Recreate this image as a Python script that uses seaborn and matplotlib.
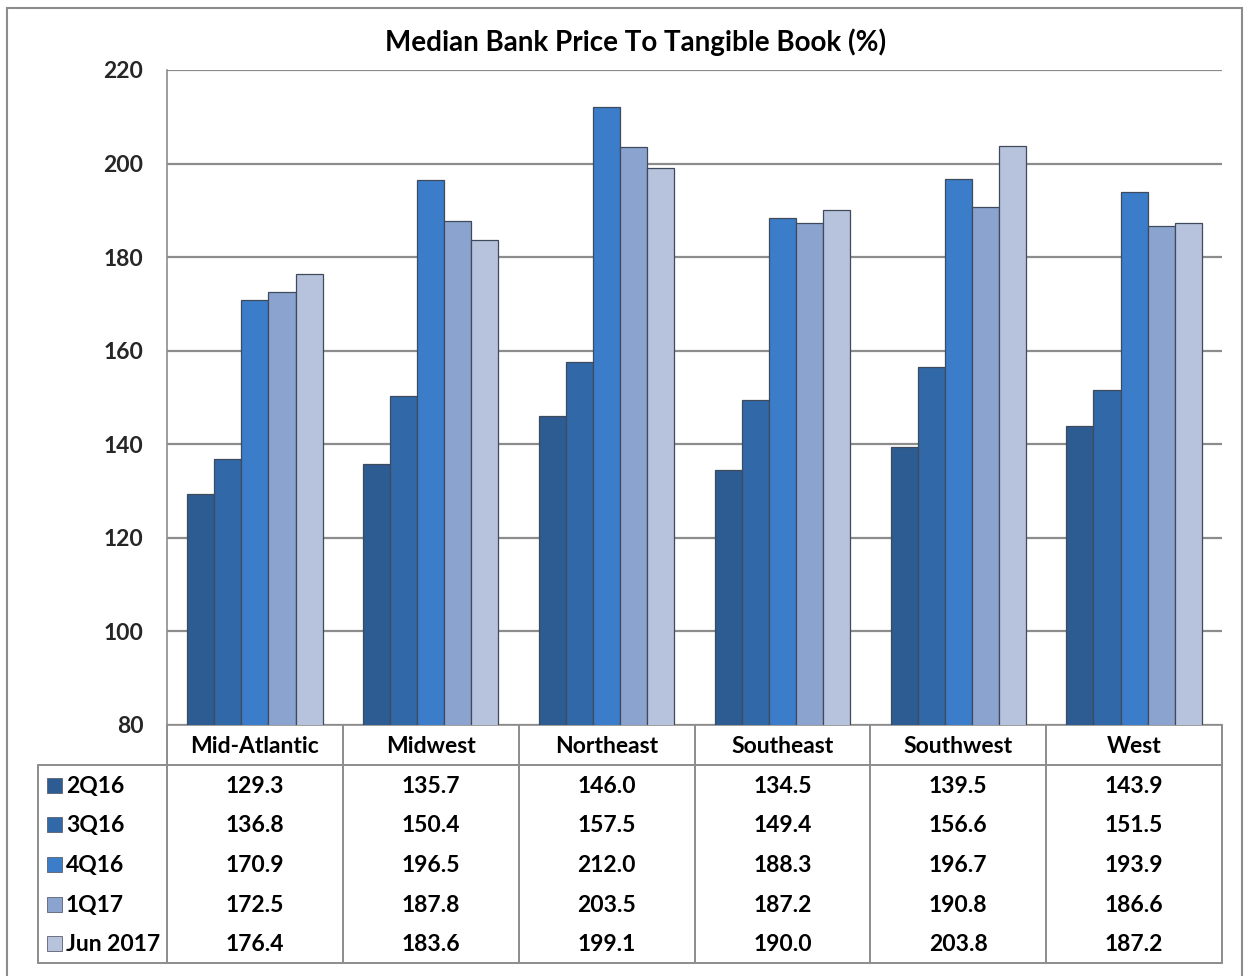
import matplotlib
matplotlib.use("Agg")
import matplotlib.pyplot as plt
import seaborn as sns
import pandas as pd
from matplotlib.lines import Line2D
from matplotlib.patches import Rectangle

regions = ["Mid-Atlantic", "Midwest", "Northeast", "Southeast", "Southwest", "West"]
series = ["2Q16", "3Q16", "4Q16", "1Q17", "Jun 2017"]
v_2q16 = [129.3, 135.7, 146.0, 134.5, 139.5, 143.9]
v_3q16 = [136.8, 150.4, 157.5, 149.4, 156.6, 151.5]
v_4q16 = [170.9, 196.5, 212.0, 188.3, 196.7, 193.9]
v_1q17 = [172.5, 187.8, 203.5, 187.2, 190.8, 186.6]
v_jun17 = [176.4, 183.6, 199.1, 190.0, 203.8, 187.2]
values = [v_2q16, v_3q16, v_4q16, v_1q17, v_jun17]
colors = ["#2d5c92", "#3068a8", "#3b7dc8", "#8aa3cf", "#b7c3dc"]
title = "Median Bank Price To Tangible Book (%)"

rows = []
for s, vals in zip(series, values):
    for r, v in zip(regions, vals):
        rows.append({"Region": r, "Series": s, "Value": v})
df = pd.DataFrame(rows)

sns.set_theme(style="white")
FAM = "Lato"
plt.rcParams["font.family"] = FAM

W, H = 1250, 976
fig = plt.figure(figsize=(W / 100, H / 100), dpi=100)
fig.patch.set_facecolor("white")

ax_l, ax_r, ax_t, ax_b = 167, 1222, 70, 725
ax = fig.add_axes([ax_l / W, 1 - ax_b / H, (ax_r - ax_l) / W, (ax_b - ax_t) / H])

sns.barplot(data=df, x="Region", y="Value", hue="Series", hue_order=series,
            order=regions, palette=colors, saturation=1, width=0.77, gap=0, ax=ax,
            edgecolor="#3f4a5c", linewidth=0.9, legend=False, zorder=3)

ax.set_ylim(80, 220)
ax.set_yticks(range(80, 221, 20))
ax.set_xlim(-0.5, len(regions) - 0.5)
ax.set_xticks([])
ax.set_xlabel("")
ax.set_ylabel("")
ax.yaxis.grid(True, color="#8c8c8c", linewidth=1.6, zorder=0)
ax.set_axisbelow(True)
for sp in ["top", "right"]:
    ax.spines[sp].set_visible(False)
ax.spines["left"].set_color("#8c8c8c")
ax.spines["left"].set_linewidth(1.2)
ax.spines["bottom"].set_color("#8c8c8c")
ax.spines["bottom"].set_linewidth(1.2)
ax.tick_params(axis="y", length=5, width=1.2, color="#8c8c8c", pad=12, labelsize=16.5)
for lab in ax.get_yticklabels():
    lab.set_fontweight("bold")
    lab.set_family(FAM)

def fx(x):
    return x / W

def fy(y):
    return 1 - y / H

txt_kw = dict(family=FAM, fontweight="bold", color="black")

fig.text(fx(636), fy(51), title, ha="center", va="baseline", fontsize=20, **txt_kw)

line_kw = dict(color="#8c8c8c", linewidth=1.4, transform=fig.transFigure)
col_w = (ax_r - ax_l) / len(regions)
hdr_bot = 765
tbl_bot = 963
tbl_left = 38
row_h = (tbl_bot - hdr_bot) / len(series)

for i, r in enumerate(regions):
    cx = ax_l + (i + 0.5) * col_w
    fig.text(fx(cx), fy(753), r, ha="center", va="baseline", fontsize=16.5, **txt_kw)
for i in range(len(regions) + 1):
    x = ax_l + i * col_w
    fig.add_artist(Line2D([fx(x), fx(x)], [fy(ax_b), fy(tbl_bot)], **line_kw))
fig.add_artist(Line2D([fx(tbl_left), fx(tbl_left)], [fy(hdr_bot), fy(tbl_bot)], **line_kw))
fig.add_artist(Line2D([fx(tbl_left), fx(ax_r)], [fy(hdr_bot), fy(hdr_bot)], **line_kw))
fig.add_artist(Line2D([fx(tbl_left), fx(ax_r)], [fy(tbl_bot), fy(tbl_bot)], **line_kw))

for j, (s, vals, c) in enumerate(zip(series, values, colors)):
    cy = hdr_bot + (j + 0.5) * row_h
    fig.add_artist(Rectangle((fx(47), fy(cy + 8)), 15 / W, 15 / H, transform=fig.transFigure,
                             facecolor=c, edgecolor="#5a6070", linewidth=0.6))
    fig.text(fx(66), fy(cy + 8), s, ha="left", va="baseline", fontsize=16.5, **txt_kw)
    for i, v in enumerate(vals):
        cx = ax_l + (i + 0.5) * col_w
        fig.text(fx(cx), fy(cy + 8), f"{v:.1f}", ha="center", va="baseline",
                 fontsize=16.5, **txt_kw)

fig.add_artist(Rectangle((fx(7), fy(990)), (1242 - 7) / W, (990 - 8) / H,
                         transform=fig.transFigure, facecolor="none",
                         edgecolor="#8c8c8c", linewidth=1.5))

fig.savefig("out.png", dpi=100, facecolor="white")
